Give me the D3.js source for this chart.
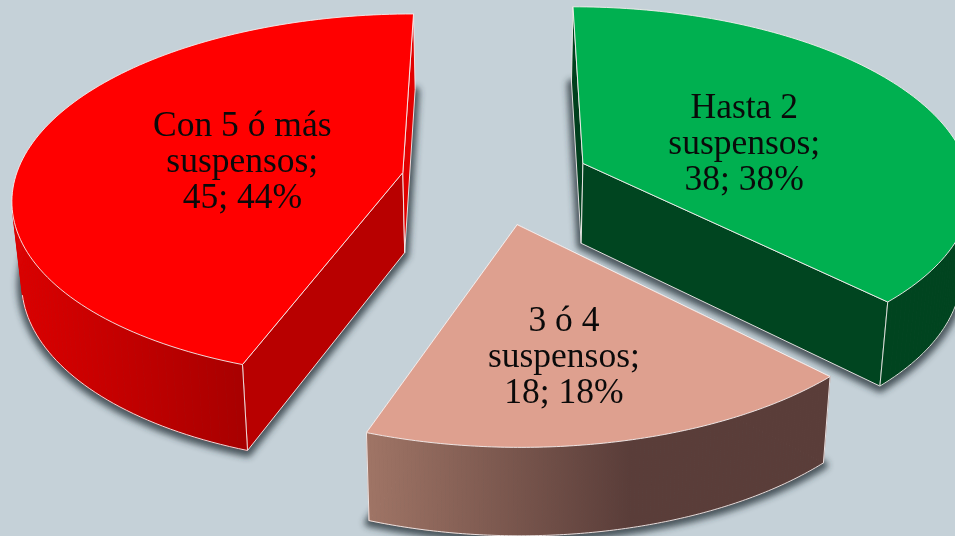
<!DOCTYPE html>
<html><head><meta charset="utf-8">
<script src="https://cdn.jsdelivr.net/npm/d3@7"></script>
<style>html,body{margin:0;padding:0;background:#c5d1d8;overflow:hidden}svg{display:block}</style>
</head><body><svg id="c" width="955" height="536"></svg>
<script>
const categories = ["Hasta 2 suspensos", "3 ó 4 suspensos", "Con 5 ó más suspensos"];
const values = [38, 18, 45];
const percents = [38, 18, 44];
const labelLines = [["Hasta 2", "suspensos;"], ["3 ó 4", "suspensos;"], ["Con 5 ó más", "suspensos;"]];
const topColors = ["#00b050", "#dea08f", "#ff0000"];
const cutColors = ["#004520", "#5a3d39", "#b80000"];
const sideColors = ["#003f1d", "#6b4a44", "#e20000"];
const wallStops = [["#00441f", "#00441f"], ["#a07566", "#5a3d39"], ["#dc0000", "#a80000"]];

// layout
const W = 955, H = 536, EXPLODE = 0.245, K = 0.13;
const LABEL_R = 0.45, LABEL_NUDGE = [[7, 20], [4, 52], [8, 13]];
const xs = d3.scaleLinear().domain([-1, 1]).range([496 - 388, 496 + 388]);
const ys = d3.scaleLinear().domain([-1, 1]).range([180 + 181, 180 - 181]);
const project = (X, Y) => { const s = 1 + K * Y; return [xs(X / s), ys(Y / s)]; };
const drop = p => [496 + (p[0] - 496) * 0.98, 1.03 * p[1] + 75];
const line = d3.line();

const svg = d3.select("#c");
const defs = svg.append("defs");
const f = defs.append("filter").attr("id", "sh").attr("x", "-20%").attr("y", "-20%").attr("width", "140%").attr("height", "140%");
f.append("feGaussianBlur").attr("stdDeviation", 3);

const slices = d3.pie().sort(null).value(d => d)(values).map((d, i) => {
  const mid = (d.startAngle + d.endAngle) / 2;
  const ox = EXPLODE * Math.sin(mid), oy = EXPLODE * Math.cos(mid);
  const at = (a, r) => project(ox + r * Math.sin(a), oy + r * Math.cos(a));
  const arc = d3.range(0, 121).map(t => at(d.startAngle + (d.endAngle - d.startAngle) * t / 120, 1));
  return { i, mid, at, arc, apex: at(0, 0) };
});

slices.forEach(s => {
  const g = defs.append("linearGradient").attr("id", "w" + s.i).attr("gradientUnits", "userSpaceOnUse")
    .attr("x1", d3.min(s.arc, p => p[0])).attr("x2", s.i === 1 ? 630 : d3.max(s.arc.filter(p => p[1] > s.apex[1]), p => p[0])).attr("y1", 0).attr("y2", 0);
  g.append("stop").attr("offset", 0).attr("stop-color", wallStops[s.i][0]);
  g.append("stop").attr("offset", 1).attr("stop-color", wallStops[s.i][1]);
});

// shadows
const shadow = svg.append("g").attr("filter", "url(#sh)");
slices.forEach(s => {
  const low = [s.apex, ...s.arc].map(drop);
  shadow.append("path").attr("d", line(low) + "Z").attr("transform", "translate(0,2)")
    .attr("fill", "#2e393e").attr("stroke", "#2e393e").attr("stroke-width", 9).attr("stroke-linejoin", "round").attr("opacity", 0.8);
});

const edge = sel => sel.attr("stroke", "#f5eeee").attr("stroke-width", 1).attr("stroke-opacity", 0.9).attr("stroke-linejoin", "round");

// radial walls, then the front-facing part of the outer wall, then the top
slices.forEach(s => {
  const g = svg.append("g");
  const first = s.arc[0], last = s.arc[s.arc.length - 1];
  const quad = (a, b) => line([a, b, drop(b), drop(a)]) + "Z";
  [first, last].forEach((p, k) => {
    const isCut = (s.i === 2 && k === 0) || (s.i === 0 && k === 1);
    g.append("path").attr("d", quad(s.apex, p)).attr("fill", isCut ? cutColors[s.i] : sideColors[s.i]).call(edge);
  });
  const front = d3.pairs(s.arc).filter(([a, b]) => {
    const dx = b[0] - a[0], dy = b[1] - a[1], d = drop(a);
    return dy * (d[0] - a[0]) - dx * (d[1] - a[1]) > 0;
  });
  front.forEach(([a, b]) => {
    g.append("path").attr("d", quad(a, b)).attr("fill", `url(#w${s.i})`)
      .attr("stroke", `url(#w${s.i})`).attr("stroke-width", 0.8);
  });
  if (front.length) {
    g.append("path").attr("d", line([front[0][0], ...front.map(p => p[1])].map(drop))).attr("fill", "none").call(edge);
    const cornerLines = [front[0][0], front[front.length - 1][1]];
    cornerLines.forEach(p => {
      if (p === first || p === last) g.append("path").attr("d", line([p, drop(p)])).attr("fill", "none").call(edge);
    });
  }
  g.append("path").attr("d", line([s.apex, ...s.arc]) + "Z").attr("fill", topColors[s.i]).call(edge);
});

// labels
slices.forEach(s => {
  const [x, y] = s.at(s.mid, LABEL_R);
  const t = svg.append("text").attr("text-anchor", "middle").attr("font-family", "'Liberation Serif', serif")
    .attr("font-size", 35.5).attr("fill", "#0a0a0a");
  const lines = [...labelLines[s.i], `${values[s.i]}; ${percents[s.i]}%`];
  lines.forEach((l, j) => t.append("tspan").attr("x", x + LABEL_NUDGE[s.i][0]).attr("y", y + LABEL_NUDGE[s.i][1] + (j - 1) * 36).text(l));
});
</script></body></html>
